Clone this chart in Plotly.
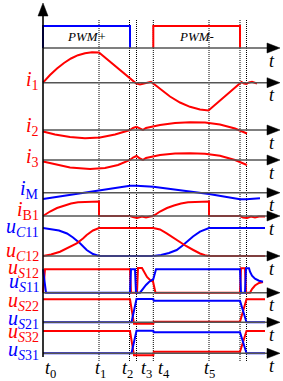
import plotly.graph_objects as go

# ---------------- data (time units: t0 = 0) ----------------
event_times = [56, 86.5, 93.5, 110.3, 166, 197, 203.5]
event_labels = ["t0", "t1", "t2", "t3", "t4", "t5"]
event_label_pos = [7, 57, 84, 103, 121, 166.5]

# PWM gate signals (value above PWM axis)
pwm_pos_t = [0, 0, 87, 87]
pwm_pos_v = [0, 22, 22, 0]
pwm_neg_t = [110.3, 110.3, 197, 197]
pwm_neg_v = [0, 22, 22, 0]

i1_t = [0, 7, 14, 21, 28, 35, 42, 49, 56, 93, 97, 101, 105, 108, 110.3, 117, 127, 137, 147, 157,
        165.5, 198.5, 201, 203.5, 206, 209, 212, 214]
i1_v = [0, 7.7, 14.2, 19.7, 24.2, 27.5, 29.5, 30.4, 30.2, -0.6, -1.8, -0.8, 0.7, 0.9, -0.8, -6.3,
        -13.8, -19.8, -24.1, -26.8, -27.8, 0.7, -0.8, -1.3, 0.2, 0.9, -0.3, -0.8]

i2_t = [0, 12, 27, 42, 57, 72, 87, 90, 93.5, 97, 100, 103, 107, 117, 132, 147, 162, 177, 192, 204]
i2_v = [-1.5, -4.5, -7, -8.3, -7.5, -4.5, 0, 2, 3.2, 1.5, 0.2, 2, 3, 5, 7, 7.7, 7.5, 5.5, 1.5, -3.5]

i3_t = [0, 12, 27, 47, 62, 75, 87, 90, 93.5, 97, 100, 103, 107, 117, 132, 147, 162, 177, 192, 204]
i3_v = [-1.5, -4.5, -7.5, -9, -8, -5, 0, 2.5, 4, 1.5, 0.2, 2, 3, 5, 6.5, 6.8, 6.3, 4.2, 0, -5]

iM_t = [0, 87, 93.5, 110.3, 166, 197, 203.5, 217]
iM_v = [-6.3, 7, 7, 6, -1.3, -6.6, -6.6, -5.6]

iB1_t = [0, 7, 14, 21, 28, 35, 42, 49, 56, 56, 87, 90, 94, 99, 103, 107, 110.3, 117, 124, 131, 138,
         145, 152, 159, 166, 166, 197, 200, 204, 208, 212, 216, 220, 222]
iB1_v = [0, 4.5, 8, 10.5, 12.5, 13.7, 14.2, 14.4, 14.5, 0, 0, -1, -2, -0.5, -1.5, -0.5, 0, 4.5, 8,
         10.5, 12.5, 13.7, 14.2, 14.4, 14.5, 0, 0, -1.5, -2, -0.5, -1.5, -0.5, -1, -0.5]

uC11_t = [0, 8, 16, 24, 30, 37, 43.7, 50, 56, 110.3, 118, 126, 133.7, 139, 143.7, 150, 157, 162, 166, 222]
uC11_v = [28, 27, 25.5, 22.5, 18.5, 12.7, 6, 2, 0, 0, 1, 3, 6, 10, 14.3, 19.5, 24.3, 26.8, 28, 28]
uC12_t = [0, 8, 17, 25, 33.7, 40, 43.7, 50, 56, 110.3, 117, 123.7, 130, 137, 143, 150.3, 157, 162, 166, 222]
uC12_v = [0, 1.5, 4.3, 8, 12.7, 17.5, 21, 25.5, 28, 28, 26.5, 22.7, 18.5, 14.3, 10, 6, 2.5, 0.8, 0, 0]

uS12_t = [0, 2, 87, 88, 94, 95, 99, 100, 102, 104, 107, 110, 112.5, 197, 198, 202, 203, 207,
          209, 212, 216, 220]
uS12_v = [0, 23.4, 23.4, 0, 0, 24.7, 24.7, 22.7, 18.7, 15.7, 12.7, 11.2, 0, 0, 24.4, 24.4, 0, 0,
          3.7, 7.2, 9.7, 10.7]
uS11_t = [0, 3, 87, 88, 92, 93, 97, 100, 103, 106, 108.7, 110.3, 113, 197, 198, 202, 203, 206,
          207, 209, 212, 216, 220]
uS11_v = [23.4, 0, 0, 23.4, 23.4, 0, 0, 4, 7.7, 10.7, 12.7, 13.5, 23.4, 23.4, 0, 0, 24.4, 24.4,
          21, 17, 14, 12, 11]

uS22_t = [0, 87, 91, 110.3, 110.8, 197, 203.5, 222]
uS22_v = [23, 23, -1.5, -1.5, 0.5, 0.5, 23, 23]
uS21_t = [0, 88.5, 93.5, 110.3, 110.8, 197, 203.5, 222]
uS21_v = [0, 0, 23.3, 23.3, 21.6, 21.6, 0, 0]

uS32_t = [0, 87, 91, 110.3, 110.8, 197, 203.5, 222]
uS32_v = [22.3, 22.3, -2, -2, 1.6, 1.6, 22.3, 22.3]
uS31_t = [0, 88.5, 93.5, 110.3, 110.8, 197, 203.5, 222]
uS31_v = [0, 0, 22.6, 22.6, 21, 21, 0, 0]

RED = "#ff0000"
BLUE = "#0000ff"
FONT = "Times New Roman, Liberation Serif, serif"

# row baselines (layout positions)
rows = {"pwm": 48, "i1": 82.7, "i2": 130, "i3": 160, "iM": 192.7, "iB1": 216,
        "uC": 256, "uS1": 292.7, "uS2": 322.3, "uS3": 353.3}

fig = go.Figure()
shapes = []
ann = []

# dotted event lines
for et in event_times:
    shapes.append(dict(type="line", x0=et, x1=et, y0=20, y1=362, layer="below",
                       line=dict(color="black", width=1, dash="1px,1px")))

# horizontal axes with arrows and t labels
for name, b in rows.items():
    shapes.append(dict(type="line", x0=0, x1=226, y0=b, y1=b,
                       line=dict(color="#555555", width=1.6)))
    shapes.append(dict(type="path", path=f"M 224,{b-5} L 237,{b} L 224,{b+5} Z",
                       fillcolor="black", line=dict(color="black", width=0.5)))
    ann.append(dict(x=229, y=b + 12.5, text="<i>t</i>", showarrow=False,
                    font=dict(family=FONT, size=18, color="black"),
                    xanchor="center", yanchor="middle"))

# vertical axis
shapes.append(dict(type="line", x0=0, x1=0, y0=357, y1=14, line=dict(color="black", width=1.6)))
shapes.append(dict(type="path", path="M -5,16 L 0,3 L 5,16 Z", fillcolor="black",
                   line=dict(color="black", width=0.5)))


def add(t, v, base, color):
    fig.add_trace(go.Scatter(x=t, y=[base - val for val in v], mode="lines",
                             line=dict(color=color, width=2), hoverinfo="skip",
                             showlegend=False))


add(pwm_pos_t, pwm_pos_v, rows["pwm"], BLUE)
add(pwm_neg_t, pwm_neg_v, rows["pwm"], RED)
add(i1_t, i1_v, rows["i1"], RED)
add(i2_t, i2_v, rows["i2"], RED)
add(i3_t, i3_v, rows["i3"], RED)
add(iM_t, iM_v, rows["iM"], BLUE)
add(iB1_t, iB1_v, rows["iB1"], RED)
add(uC11_t, uC11_v, rows["uC"], BLUE)
add(uC12_t, uC12_v, rows["uC"], RED)
add(uS12_t, uS12_v, rows["uS1"], RED)
add(uS11_t, uS11_v, rows["uS1"], BLUE)
add(uS22_t, uS22_v, rows["uS2"], RED)
add(uS21_t, uS21_v, rows["uS2"], BLUE)
add(uS32_t, uS32_v, rows["uS3"], RED)
add(uS31_t, uS31_v, rows["uS3"], BLUE)

# PWM texts
ann.append(dict(x=43, y=36, text="<i>PWM+</i>", showarrow=False,
                font=dict(family=FONT, size=13, color="black")))
ann.append(dict(x=153.5, y=36, text="<i>PWM-</i>", showarrow=False,
                font=dict(family=FONT, size=13, color="black")))

# row labels
labels = [
    ("<i>i</i><sub>1</sub>", 80, RED),
    ("<i>i</i><sub>2</sub>", 126, RED),
    ("<i>i</i><sub>3</sub>", 157, RED),
    ("<i>i</i><sub>M</sub>", 189, BLUE),
    ("<i>i</i><sub>B1</sub>", 210, RED),
    ("<i>u</i><sub><i>C</i>11</sub>", 227, BLUE),
    ("<i>u</i><sub><i>C</i>12</sub>", 251, RED),
    ("<i>u</i><sub><i>S</i>12</sub>", 268, RED),
    ("<i>u</i><sub><i>S</i>11</sub>", 282, BLUE),
    ("<i>u</i><sub><i>S</i>22</sub>", 301, RED),
    ("<i>u</i><sub><i>S</i>21</sub>", 319, BLUE),
    ("<i>u</i><sub><i>S</i>32</sub>", 332, RED),
    ("<i>u</i><sub><i>S</i>31</sub>", 350, BLUE),
]
for txt, y, c in labels:
    ann.append(dict(x=-2, y=y, text=txt, showarrow=False, xanchor="right", yanchor="middle",
                    font=dict(family=FONT, size=20, color=c)))

# bottom event labels
for lab, x in zip(event_labels, event_label_pos):
    ann.append(dict(x=x, y=369, text=f"<i>t</i><sub>{lab[1:]}</sub>", showarrow=False,
                    font=dict(family=FONT, size=18, color="black"),
                    xanchor="center", yanchor="middle"))

fig.update_layout(
    width=283, height=381, margin=dict(l=0, r=0, t=0, b=0),
    paper_bgcolor="white", plot_bgcolor="white",
    xaxis=dict(range=[-43, 240], visible=False, fixedrange=True),
    yaxis=dict(range=[381, 0], visible=False, fixedrange=True),
    shapes=shapes, annotations=ann, showlegend=False,
)
fig.write_html("out.html", config={"displayModeBar": False})
